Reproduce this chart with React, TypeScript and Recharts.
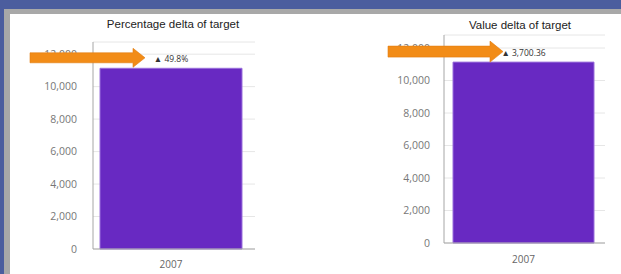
import React from 'react';
import { BarChart, Bar, XAxis, YAxis, CartesianGrid, LabelList } from 'recharts';

const categories = ['2007'];
const actualValues = [11131];
const percentDelta = [49.8];
const valueDelta = [3700.36];
const yTicks = [0, 2000, 4000, 6000, 8000, 10000, 12000];

const BAR_COLOR = '#6829c2';
const ARROW_COLOR = '#f28c17';

const fmtNum = (v: number) => v.toLocaleString('en-US');

interface PanelProps {
    title: string;
    deltaLabels: string[];
    left: number;
    width: number;
    yMax: number;
    margin: { top: number; right: number };
    yWidth: number;
    xHeight: number;
    xPad: { left: number; right: number };
    yTickMargin: number;
    xTickMargin: number;
    titleX: number;
    titleY: number;
    arrow: { tip: number; half: number; headHalf: number; headLen: number };
}

function DeltaPanel(p: PanelProps) {
    const data = categories.map((c, i) => ({ name: c, value: actualValues[i], delta: p.deltaLabels[i] }));

    const renderDelta = (props: any) => {
        const { x, y, width, value } = props;
        const cx = Number(x) + Number(width) / 2;
        const top = Number(y);
        const ay = top - 10.5;
        const tipX = cx + p.arrow.tip;
        const tailX = tipX - 115;
        const headX = tipX - p.arrow.headLen;
        const { half, headHalf } = p.arrow;
        const pts = [
            [tailX, ay - half], [headX, ay - half], [headX, ay - headHalf], [tipX, ay],
            [headX, ay + headHalf], [headX, ay + half], [tailX, ay + half],
        ].map(q => q.join(',')).join(' ');
        return (
            <g>
                <text x={cx} y={top - 6} textAnchor="middle" fontSize={8.5} fill="#333"
                    fontFamily="'Open Sans', sans-serif">{'\u25B2 ' + value}</text>
                <polygon points={pts} fill={ARROW_COLOR} stroke="#e07c10" strokeWidth={0.6} />
            </g>
        );
    };

    return (
        <div style={{ position: 'absolute', left: p.left, top: 14, width: p.width, height: 260 }}>
            <div style={{
                position: 'absolute', left: p.titleX - 100, top: p.titleY - 8, width: 200, textAlign: 'center',
                fontFamily: "'Liberation Sans', Arial, sans-serif", fontSize: 11.5, lineHeight: '16px', color: '#222',
            }}>{p.title}</div>
            <BarChart width={p.width} height={260} data={data} barCategoryGap={0}
                margin={{ top: p.margin.top, right: p.margin.right, left: 0, bottom: 0 }}
                style={{ position: 'absolute', left: 0, top: 0 }}>
                <CartesianGrid vertical={false} stroke="#e6e6e6" />
                <XAxis dataKey="name" height={p.xHeight} padding={p.xPad} tickLine={false} tickSize={0}
                    tickMargin={p.xTickMargin} stroke="#a6a6a6"
                    tick={{ fill: '#666', fontSize: 10, fontFamily: "'Open Sans', sans-serif" }} />
                <YAxis width={p.yWidth} domain={[0, p.yMax]} ticks={yTicks} tickFormatter={fmtNum}
                    tickLine={false} tickSize={0} tickMargin={p.yTickMargin} stroke="#a6a6a6"
                    tick={{ fill: '#777', fontSize: 10.5, fontFamily: "'Open Sans', sans-serif" }} />
                <Bar dataKey="value" fill={BAR_COLOR} stroke="#9a70dc" strokeWidth={1} isAnimationActive={false}>
                    <LabelList dataKey="delta" content={renderDelta} />
                </Bar>
            </BarChart>
        </div>
    );
}

export default function App() {
    return (
        <div style={{ position: 'fixed', left: 0, top: 0, width: 621, height: 274, background: '#4b5d9e', overflow: 'hidden' }}>
            <div style={{ position: 'absolute', left: 4, top: 9, right: 0, bottom: 0, background: '#a8a8a8' }} />
            <div style={{ position: 'absolute', left: 10, top: 14, right: 0, bottom: 0, background: '#fff' }} />
            <DeltaPanel
                title="Percentage delta of target"
                deltaLabels={percentDelta.map(v => `${v}%`)}
                left={10} width={290} yMax={12750}
                margin={{ top: 28, right: 45 }} yWidth={83} xHeight={25}
                xPad={{ left: 7, right: 13 }} yTickMargin={16} xTickMargin={12}
                titleX={163} titleY={10}
                arrow={{ tip: -26, half: 5, headHalf: 9.5, headLen: 12 }}
            />
            <DeltaPanel
                title="Value delta of target"
                deltaLabels={valueDelta.map(v => v.toLocaleString('en-US', { minimumFractionDigits: 2 }))}
                left={310} width={311} yMax={12800}
                margin={{ top: 21, right: 16 }} yWidth={134} xHeight={31}
                xPad={{ left: 9, right: 11 }} yTickMargin={14} xTickMargin={13}
                titleX={210} titleY={11}
                arrow={{ tip: -20.5, half: 5.5, headHalf: 10.5, headLen: 13 }}
            />
        </div>
    );
}
